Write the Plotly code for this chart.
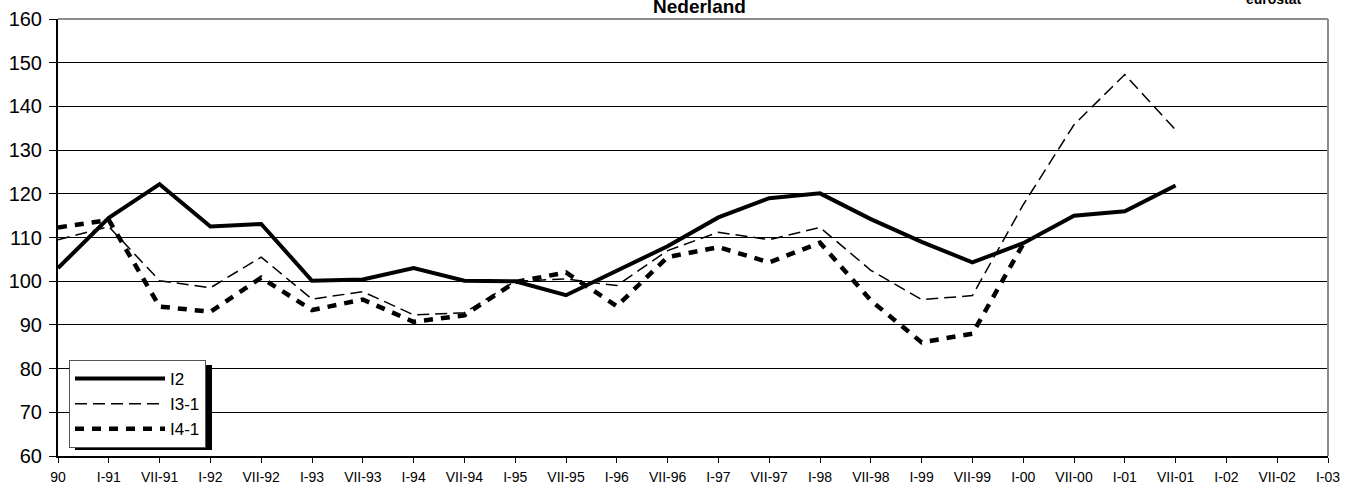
import plotly.graph_objects as go

categories = ["90", "I-91", "VII-91", "I-92", "VII-92", "I-93", "VII-93", "I-94", "VII-94",
              "I-95", "VII-95", "I-96", "VII-96", "I-97", "VII-97", "I-98", "VII-98", "I-99",
              "VII-99", "I-00", "VII-00", "I-01", "VII-01", "I-02", "VII-02", "I-03"]

i2 = [103.0, 114.5, 122.2, 112.5, 113.1, 100.1, 100.4, 103.0, 100.1, 100.0, 96.8, 102.5,
      108.0, 114.6, 119.0, 120.1, 114.2, 109.0, 104.3, 108.7, 115.0, 116.0, 121.9]
i3_1 = [109.5, 112.5, 100.1, 98.5, 105.5, 95.9, 97.6, 92.3, 92.8, 100.0, 100.5, 99.0,
        107.0, 111.2, 109.5, 112.3, 102.5, 95.8, 96.7, 117.5, 135.8, 147.3, 134.6]
i4_1 = [112.3, 114.0, 94.2, 93.0, 100.8, 93.4, 95.8, 90.7, 92.2, 99.8, 102.0, 94.3,
        105.5, 107.8, 104.3, 108.8, 95.6, 86.0, 88.0, 108.5]

y_ticks = [60, 70, 80, 90, 100, 110, 120, 130, 140, 150, 160]
title_text = "Nederland"
logo_text = "eurostat"

FONT = "Liberation Sans, Arial, sans-serif"

fig = go.Figure()
fig.add_trace(go.Scatter(x=categories[:len(i2)], y=i2, mode="lines", name="I2",
                         line=dict(color="black", width=4)))
fig.add_trace(go.Scatter(x=categories[:len(i3_1)], y=i3_1, mode="lines", name="I3-1",
                         line=dict(color="black", width=1.5, dash="12px,6px")))
fig.add_trace(go.Scatter(x=categories[:len(i4_1)], y=i4_1, mode="lines", name="I4-1",
                         line=dict(color="black", width=4.5, dash="9px,8px")))

L, R, T, B = 58, 28, 19, 32
W, H = 1356, 488
pw, ph = W - L - R, H - T - B

def px_x(x):
    return (x - L) / pw

def px_y(y):
    return (H - B - y) / ph

fig.update_layout(
    width=W, height=H,
    margin=dict(l=L, r=R, t=T, b=B, pad=0, autoexpand=False),
    paper_bgcolor="white", plot_bgcolor="white",
    font=dict(family=FONT, color="black"),
    showlegend=True,
    legend=dict(x=px_x(69), y=px_y(360), xanchor="left", yanchor="top",
                bgcolor="white", bordercolor="#555555", borderwidth=1,
                font=dict(size=17, family=FONT, color="black"),
                itemwidth=90, tracegroupgap=0),
    xaxis=dict(type="category", categoryorder="array", categoryarray=categories,
               range=[0, len(categories) - 1], showgrid=False, zeroline=False,
               showline=True, linecolor="black", linewidth=2, automargin=False,
               ticks="outside", ticklen=5, tickwidth=1, tickcolor="black",
               ticklabelstandoff=2,
               tickfont=dict(size=14, family=FONT, color="black"),
               tickangle=0),
    yaxis=dict(range=[60, 160], tickvals=y_ticks, showgrid=True, gridcolor="black",
               gridwidth=1, zeroline=False, showline=True, linecolor="black", linewidth=2,
               automargin=False,
               ticks="outside", ticklen=7, tickwidth=1, tickcolor="black",
               ticklabelstandoff=3,
               tickfont=dict(size=20, family=FONT, color="black")),
    shapes=[
        dict(type="line", xref="paper", yref="paper", x0=0, x1=1, y0=1, y1=1,
             line=dict(color="#8c8c8c", width=2), layer="above"),
        dict(type="line", xref="paper", yref="paper", x0=1, x1=1, y0=0, y1=1,
             line=dict(color="#8c8c8c", width=2), layer="above"),
        dict(type="rect", xref="paper", yref="paper",
             x0=px_x(75), x1=px_x(212), y0=px_y(450), y1=px_y(365),
             fillcolor="black", line=dict(width=0), layer="above"),
    ],
    annotations=[
        dict(text="<b>" + title_text + "</b>", xref="paper", yref="paper",
             x=px_x(699.5), y=1, xanchor="center", yanchor="bottom", showarrow=False,
             font=dict(size=19, family=FONT, color="black")),
        dict(text="<b>" + logo_text + "</b>", xref="paper", yref="paper",
             x=px_x(1274), y=1, xanchor="center", yanchor="bottom", yshift=10,
             showarrow=False, font=dict(size=14, family=FONT, color="black")),
    ],
)

fig.write_html("out.html", config={"displayModeBar": False},
               post_script="document.body.style.margin='0';document.body.style.overflow='hidden';")
